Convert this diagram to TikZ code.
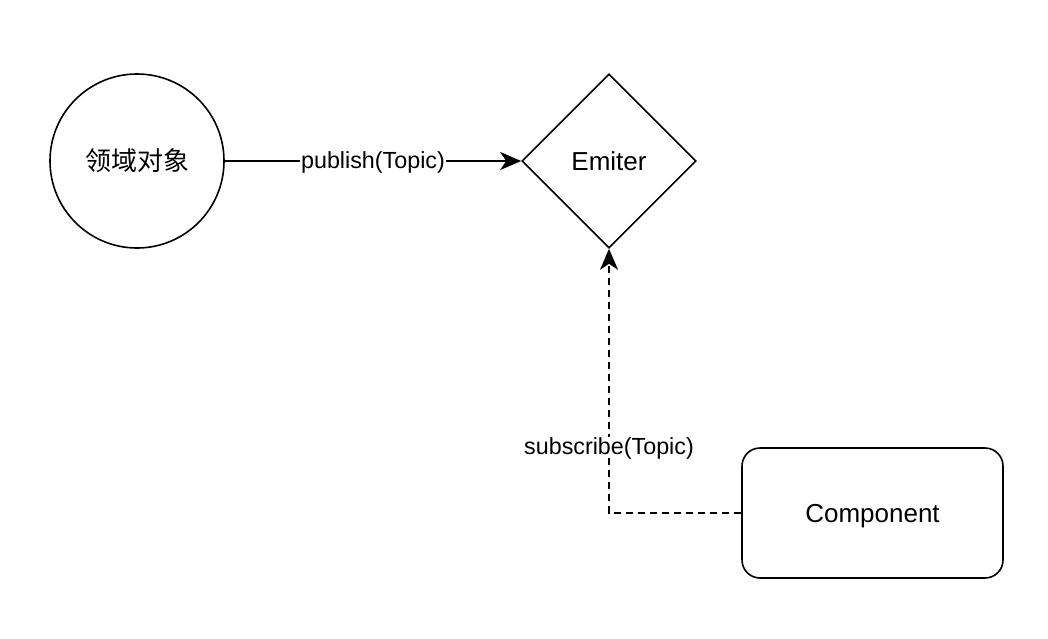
\documentclass[tikz,border=0pt]{standalone}
\usepackage{fontspec}
\setmainfont{Liberation Sans}
\newfontfamily\cjk{Noto Sans CJK SC}
\usetikzlibrary{shapes.geometric,arrows.meta}

\begin{document}
\begin{tikzpicture}[
      x=1pt, y=-1pt,
      thing/.style={
        draw=black,
        line width=1.6pt,
        inner sep=0pt,
        text centered,
        font=\fontsize{26}{30}\selectfont
      },
      msg/.style={
        fill=white,
        inner sep=1pt,
        text depth=1pt,
        font=\fontsize{23.3}{27}\selectfont
      },
      flow/.style={
        line width=1.6pt,
        -{Stealth[length=21pt,width=18pt,inset=6pt]}
      }
    ]

    % Page
    \useasboundingbox (0,0) rectangle (1048,638);

    % Shapes
    \node[thing, circle, minimum size=174pt] (Domain) at (137,161) {\cjk 领域对象};
    \node[thing, diamond, minimum width=174pt, minimum height=174pt] (Emiter) at (609,161) {Emiter};
    \node[thing, rectangle, rounded corners=18pt, minimum width=261pt, minimum height=130pt, text depth=0pt] (Comp) at (872.5,513) {Component};

    % Publish arrow
    \draw[flow] (Domain) -- (Emiter) node[msg, midway] {publish(Topic)};

    % Subscribe arrow
    \draw[flow, dash pattern=on 7pt off 5pt] (Comp.west) -| (Emiter.south) node[msg, pos=0.625] {subscribe(Topic)};
    \end{tikzpicture}
\end{document}
